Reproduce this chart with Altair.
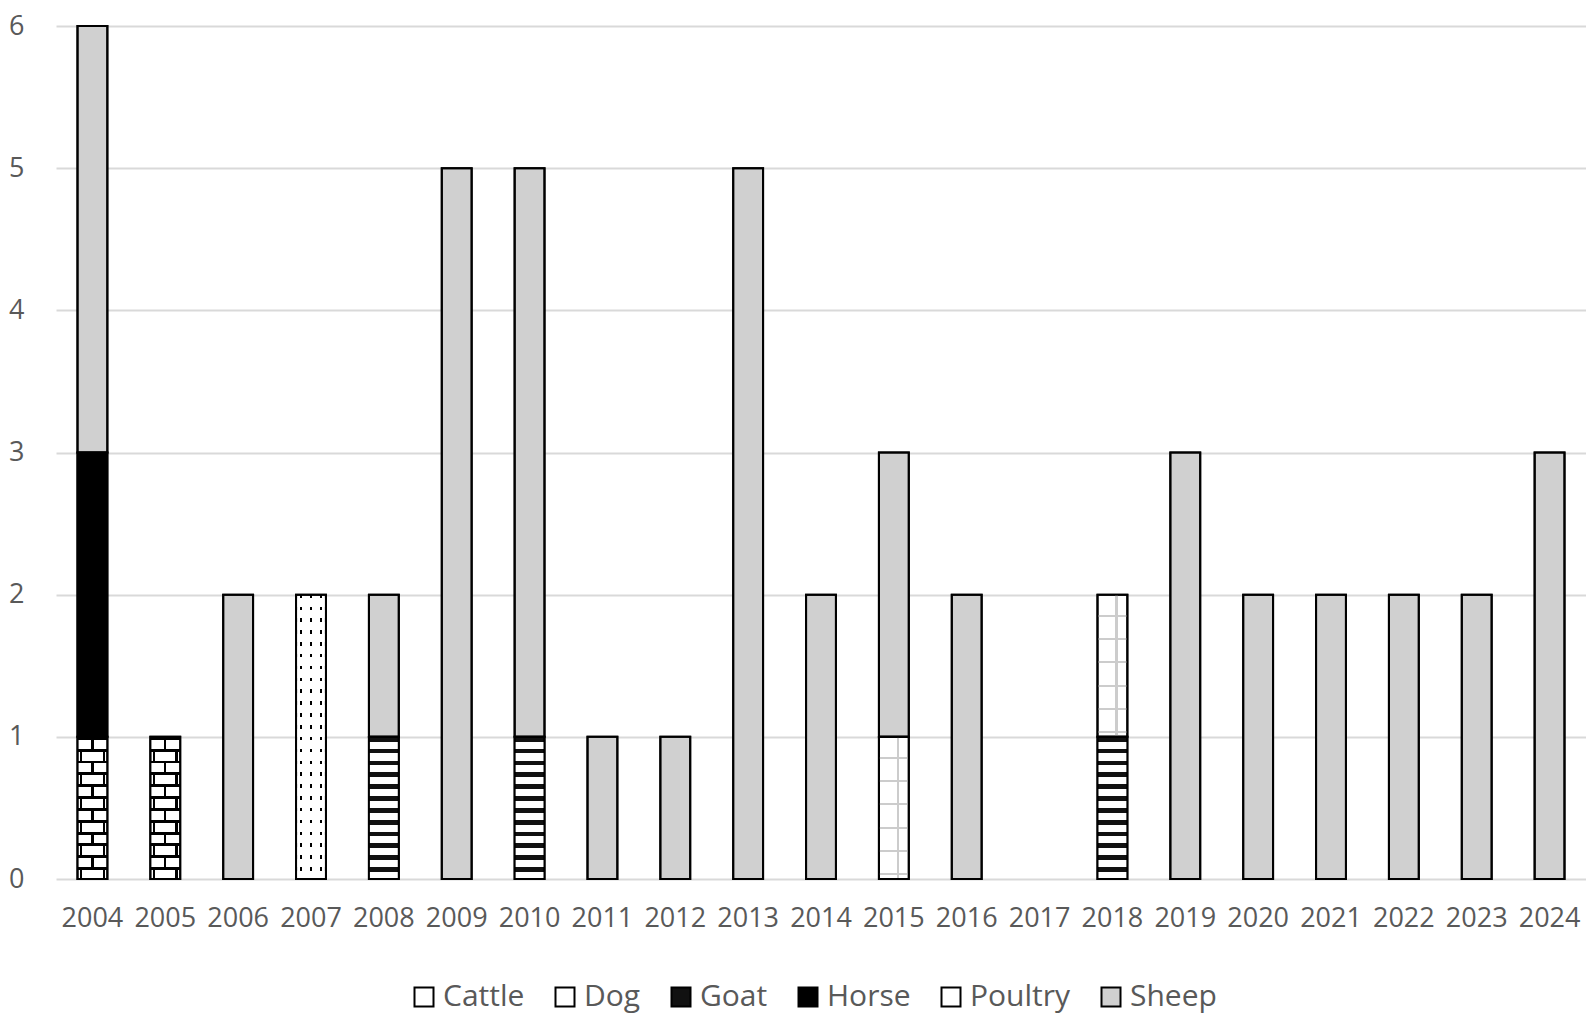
import altair as alt
import pandas as pd

years = [str(y) for y in range(2004, 2025)]
species = ["Cattle", "Dog", "Goat", "Horse", "Poultry", "Sheep"]
cattle  = [0, 0, 0, 2, 0, 0, 0, 0, 0, 0, 0, 0, 0, 0, 0, 0, 0, 0, 0, 0, 0]
dog     = [1, 1, 0, 0, 0, 0, 0, 0, 0, 0, 0, 0, 0, 0, 0, 0, 0, 0, 0, 0, 0]
goat    = [0, 0, 0, 0, 1, 0, 1, 0, 0, 0, 0, 0, 0, 0, 1, 0, 0, 0, 0, 0, 0]
horse   = [2, 0, 0, 0, 0, 0, 0, 0, 0, 0, 0, 0, 0, 0, 0, 0, 0, 0, 0, 0, 0]
poultry = [0, 0, 0, 0, 0, 0, 0, 0, 0, 0, 0, 1, 0, 0, 1, 0, 0, 0, 0, 0, 0]
sheep   = [3, 0, 2, 0, 1, 5, 4, 1, 1, 5, 2, 2, 2, 0, 0, 3, 2, 2, 2, 2, 3]
series = [cattle, dog, goat, horse, poultry, sheep]
flat_colors = ["#ffffff", "#ffffff", "#111111", "#000000", "#ffffff", "#d0d0d0"]

rows = []
for k, (name, vals) in enumerate(zip(species, series)):
    for yr, v in zip(years, vals):
        if v > 0:
            rows.append({"year": yr, "species": name, "count": v, "order": k})
df = pd.DataFrame(rows)

CLEAR = "rgba(255,255,255,0)"


def grad(bands, on, off=CLEAR, vertical=True):
    stops = [{"offset": 0, "color": off}]
    for a, b in bands:
        a = max(0.0, min(1.0, a))
        b = max(0.0, min(1.0, b))
        stops += [{"offset": a, "color": off}, {"offset": a, "color": on},
                  {"offset": b, "color": on}, {"offset": b, "color": off}]
    stops.append({"offset": 1, "color": off})
    g = {"gradient": "linear", "x1": 0, "y1": 0, "stops": stops}
    if vertical:
        g.update({"x2": 0, "y2": 1})
    else:
        g.update({"x2": 1, "y2": 0})
    return g


base = alt.Chart(df).transform_stack(
    stack="count", as_=["y0", "y1"], groupby=["year"],
    sort=[alt.SortField("order", order="ascending")]
)

xenc = alt.X("year:N", sort=years,
             scale=alt.Scale(domain=years, paddingInner=0.59, paddingOuter=0.295),
             axis=alt.Axis(title=None, labelAngle=0, labelPadding=26, grid=False,
                           domain=False, ticks=False))
yenc = alt.Y("y0:Q", scale=alt.Scale(domain=[0, 6], nice=False),
             axis=alt.Axis(title=None, values=[0, 1, 2, 3, 4, 5, 6], labelPadding=32,
                           grid=True, gridColor="#d9d9d9", gridWidth=2,
                           domain=False, ticks=False))

flat = base.mark_bar(stroke="black", strokeWidth=2).encode(
    x=xenc, y=yenc, y2="y1:Q",
    color=alt.Color("species:N", scale=alt.Scale(domain=species, range=flat_colors),
                    legend=alt.Legend(title=None, orient="none", legendX=353, legendY=956,
                                      direction="horizontal", columns=6,
                                      symbolType="square", symbolSize=361,
                                      symbolStrokeColor="black", symbolStrokeWidth=2,
                                      symbolOpacity=1, labelFontSize=30,
                                      labelColor="#595959", labelFont="Open Sans",
                                      labelOffset=4, columnPadding=25, labelLimit=400))
)


def pat(sp, fill, **kw):
    return base.transform_filter(alt.datum.species == sp).mark_bar(
        fill=fill, strokeWidth=0, **kw
    ).encode(x=xenc, y=yenc, y2="y1:Q")


n = 12
p = 1.0 / n
# Goat: black base, white stripes
goat_l = pat("Goat", grad([(k * p + 0.4 * p, (k + 1) * p) for k in range(n)], "#ffffff"))

# Dog: bricks
dog_v = pat("Dog", grad([(0.08, 0.16), (0.46, 0.54), (0.84, 0.92)], "#000000", vertical=False))
dog_cover_mid = pat("Dog", grad([(k * p + 0.25 * p, (k + 1) * p) for k in range(1, n, 2)], "#ffffff"),
                    width=8)
dog_cover_l = pat("Dog", grad([(k * p + 0.25 * p, (k + 1) * p) for k in range(0, n, 2)], "#ffffff"),
                  width=6, xOffset=-11)
dog_cover_r = pat("Dog", grad([(k * p + 0.25 * p, (k + 1) * p) for k in range(0, n, 2)], "#ffffff"),
                  width=6, xOffset=11)
dog_h = pat("Dog", grad([(k * p, k * p + 0.25 * p) for k in range(n)], "#000000"))

# Poultry: light grey grid
pq = 0.164
poultry_v = pat("Poultry", grad([(0.6, 0.68)], "#cccccc", vertical=False))
poultry_h = pat("Poultry", grad([(0.14 + k * pq, 0.155 + k * pq) for k in range(6)], "#cccccc"))

# Cattle: dots
m = 24
q = 1.0 / m
cattle_v = pat("Cattle", grad([(0.12, 0.2), (0.46, 0.54), (0.8, 0.88)], "#000000", vertical=False))
cattle_cover = pat("Cattle", grad([(k * q + 0.3 * q, (k + 1) * q) for k in range(m)], "#ffffff"))

outline = base.mark_bar(fill="white", fillOpacity=0, stroke="black", strokeWidth=2).encode(
    x=xenc, y=yenc, y2="y1:Q"
)

chart = alt.layer(
    flat, goat_l, dog_v, dog_cover_mid, dog_cover_l, dog_cover_r, dog_h,
    poultry_v, poultry_h, cattle_v, cattle_cover, outline
).properties(
    width=1530, height=853,
    padding={"left": 0, "top": 4, "right": 0, "bottom": 6},
    background="white"
).configure_view(stroke=None).configure_axis(
    labelFont="Open Sans", labelFontSize=27, labelColor="#595959"
)

chart.save("out.html", embed_options={"renderer": "svg", "actions": False})
